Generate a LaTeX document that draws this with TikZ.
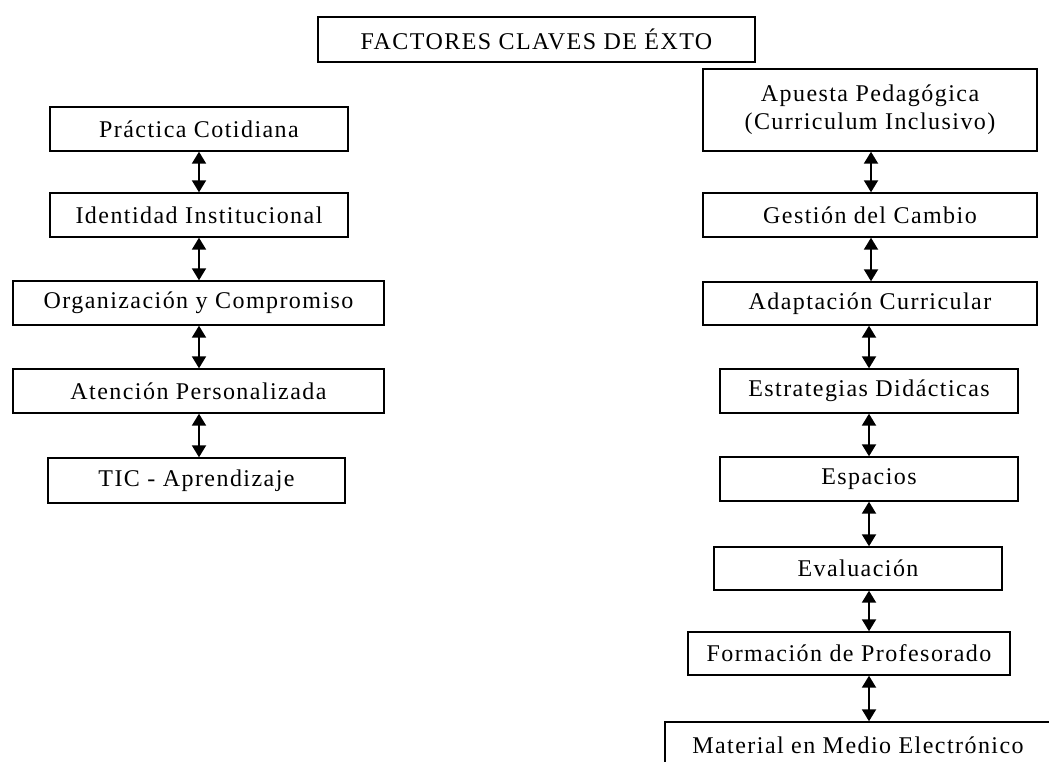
\documentclass[tikz,border=0pt]{standalone}
\usepackage{fontspec}
\setmainfont{Liberation Serif}[LetterSpace=6]
\usetikzlibrary{arrows.meta}
\begin{document}
\begin{tikzpicture}[x=1pt,y=-1pt,
  box/.style={draw=black, line width=1.4pt, inner sep=0pt, align=center,
    font=\fontsize{24}{28}\selectfont},
  dbl/.style={{Triangle[width=14pt,length=12pt]}-{Triangle[width=14pt,length=12pt]}, line width=2pt}]
\useasboundingbox (0,0) rectangle (1049,762);
\clip (0,0) rectangle (1049,762);
% title
\node[box, minimum width=437pt, minimum height=45pt] (t) at (536.5,39.5) {FACTORES CLAVES DE ÉXTO};
% left column
\node[box, minimum width=298pt, minimum height=44pt] (l1) at (199,129) {Práctica Cotidiana};
\node[box, minimum width=298pt, minimum height=44pt] (l2) at (199,215) {Identidad Institucional};
\node[box, minimum width=371pt, minimum height=44pt] (l3) at (198.5,303) {Organización y Compromiso};
\node[box, minimum width=371pt, minimum height=44pt] (l4) at (198.5,391) {Atención Personalizada};
\node[box, minimum width=297pt, minimum height=45pt] (l5) at (196.5,480.5) {TIC - Aprendizaje};
\coordinate (la) at (199,0);
\draw[dbl] (l1.south -| la) -- (l2.north -| la);
\draw[dbl] (l2.south -| la) -- (l3.north -| la);
\draw[dbl] (l3.south -| la) -- (l4.north -| la);
\draw[dbl] (l4.south -| la) -- (l5.north -| la);
% right column
\node[box, minimum width=334pt, minimum height=82pt] (r1) at (870,110) {Apuesta Pedagógica\\(Curriculum Inclusivo)};
\node[box, minimum width=334pt, minimum height=44pt] (r2) at (870,215) {Gestión del Cambio};
\node[box, minimum width=334pt, minimum height=43pt] (r3) at (870,303.5) {Adaptación Curricular};
\node[box, minimum width=298pt, minimum height=44pt] (r4) at (869,391) {Estrategias Didácticas};
\node[box, minimum width=298pt, minimum height=44pt] (r5) at (869,479) {Espacios};
\node[box, minimum width=288pt, minimum height=43pt] (r6) at (858,568.5) {Evaluación};
\node[box, minimum width=322pt, minimum height=43pt] (r7) at (849,653.5) {Formación de Profesorado};
\node[box, minimum width=386pt, minimum height=46pt] (r8) at (858,745) {Material en Medio Electrónico};
\coordinate (ra) at (871,0);
\coordinate (rb) at (869,0);
\draw[dbl] (r1.south -| ra) -- (r2.north -| ra);
\draw[dbl] (r2.south -| ra) -- (r3.north -| ra);
\draw[dbl] (r3.south -| rb) -- (r4.north -| rb);
\draw[dbl] (r4.south -| rb) -- (r5.north -| rb);
\draw[dbl] (r5.south -| rb) -- (r6.north -| rb);
\draw[dbl] (r6.south -| rb) -- (r7.north -| rb);
\draw[dbl] (r7.south -| rb) -- (r8.north -| rb);
\end{tikzpicture}
\end{document}
